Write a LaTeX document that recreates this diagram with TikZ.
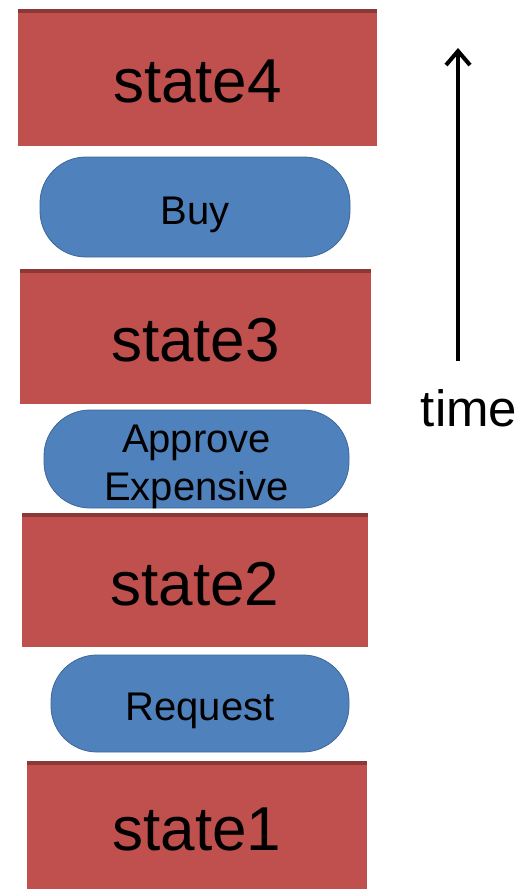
\documentclass[tikz,border=0pt]{standalone}
\usepackage{fontspec}
\setmainfont{Liberation Sans}
\usepackage{tikz}
\usetikzlibrary{arrows.meta, positioning}
\definecolor{stateRed}{HTML}{C0504D}
\definecolor{stateDark}{HTML}{8C3836}
\definecolor{actBlue}{HTML}{4F81BD}
\definecolor{actDark}{HTML}{3F6796}
\tikzset{
  statebox/.style = {fill=stateRed, inner sep=0pt, align=center,
                     font=\fontsize{62}{70}\selectfont, text height=52pt, text depth=2pt,
                     path picture={\fill[stateDark] (path picture bounding box.north west)
                       rectangle ([yshift=-4pt]path picture bounding box.north east);}},
  actbox/.style   = {fill=actBlue, draw=actDark, line width=0.8pt, rounded corners=46pt,
                     inner sep=0pt, align=center, font=\fontsize{40}{48}\selectfont,
                     text height=43pt, text depth=9pt},
  timearr/.style  = {-{Straight Barb[length=14pt, width=24pt, line width=4pt]},
                     line width=4pt, draw=black},
  lbl/.style      = {font=\fontsize{51}{60}\selectfont, inner sep=0pt}
}
\begin{document}
\begin{tikzpicture}[x=1pt, y=-1pt]
  \useasboundingbox (0,0) rectangle (527,889);
  \fill[white] (0,0) rectangle (527,889);
  % states and actions, bottom to top
  \node[statebox, minimum width=340pt, minimum height=128pt] (s1) at (197,825) {state1};
  \node[actbox, minimum width=298pt, minimum height=97pt] (req) at (200,703.5) {Request};
  \node[statebox, minimum width=346pt, minimum height=134pt] (s2) at (195,580) {state2};
  \node[actbox, minimum width=305pt, minimum height=98pt, text height=90pt, text depth=8pt]
    (appr) at (196.5,459) {Approve\\Expensive};
  \node[statebox, minimum width=351pt, minimum height=135pt] (s3) at (195.5,336.5) {state3};
  \node[actbox, minimum width=310pt, minimum height=100pt] (buy) at (195,207) {Buy};
  \node[statebox, minimum width=359pt, minimum height=137pt] (s4) at (197.5,77.5) {state4};
  % time axis
  \coordinate (tb) at (458,361);
  \coordinate (tt) at (458,48);
  \draw[timearr] (tb) -- (tt);
  \node[lbl] (time) at (469,408) {time};
\end{tikzpicture}
\end{document}
